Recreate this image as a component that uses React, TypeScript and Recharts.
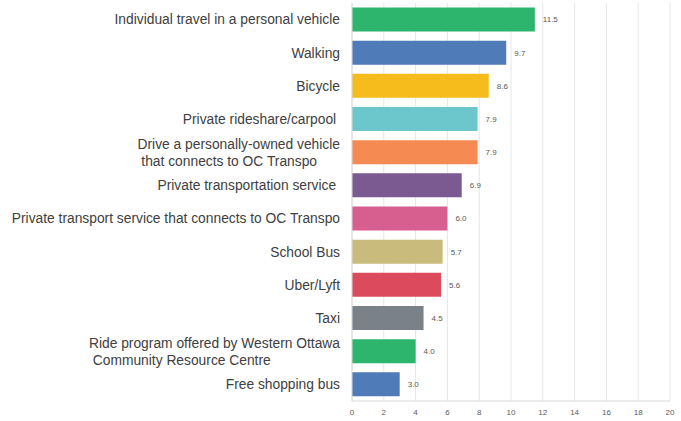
import { Bar, BarChart, CartesianGrid, Cell, LabelList, XAxis, YAxis } from 'recharts'

// categories (top to bottom) and mean values
const modes = [
  'Individual travel in a personal vehicle',
  'Walking',
  'Bicycle',
  'Private rideshare/carpool ',
  'Drive a personally-owned vehicle\n that connects to OC Transpo',
  'Private transportation service ',
  'Private transport service that connects to OC Transpo',
  'School Bus',
  'Uber/Lyft',
  'Taxi',
  'Ride program offered by Western Ottawa\n Community Resource Centre',
  'Free shopping bus',
]
const scores = [11.5, 9.7, 8.6, 7.9, 7.9, 6.9, 6.0, 5.7, 5.6, 4.5, 4.0, 3.0]
const colors = [
  '#2db56d',
  '#4f7bb8',
  '#f6bc1b',
  '#6cc7cc',
  '#f58a53',
  '#7a5a91',
  '#d65f90',
  '#c9bb7c',
  '#dc4b5d',
  '#7a8189',
  '#2db56d',
  '#4f7bb8',
]
const xTicks = [0, 2, 4, 6, 8, 10, 12, 14, 16, 18, 20]

const data = modes.map((name, i) => ({ name, value: scores[i] }))

const FONT = '"Liberation Sans", Arial, sans-serif'
const SIZE = 13.8

let ctx: CanvasRenderingContext2D | null = null
const measure = (s: string) => {
  if (!ctx) ctx = document.createElement('canvas').getContext('2d')
  if (!ctx) return s.length * 7
  ctx.font = `${SIZE}px ${FONT}`
  return ctx.measureText(s).width
}

// wrapped labels are right aligned on the first line, following lines start where it starts
function ModeTick({ x, y, payload }: any) {
  const lines = String(payload.value).split('\n')
  const right = x - 4
  if (lines.length === 1) {
    return (
      <text
        x={right}
        y={y}
        dy="0.35em"
        textAnchor="end"
        xmlSpace="preserve"
        fontSize={SIZE}
        fontFamily={FONT}
        fill="#404040"
      >
        {lines[0]}
      </text>
    )
  }
  const left = right - measure(lines[0])
  const top = y - ((lines.length - 1) * 17) / 2
  return (
    <g>
      {lines.map((l, i) => (
        <text
          key={i}
          x={i === 0 ? right : left}
          y={top + i * 17}
          dy="0.35em"
          textAnchor={i === 0 ? 'end' : 'start'}
          xmlSpace="preserve"
          fontSize={SIZE}
          fontFamily={FONT}
          fill="#404040"
        >
          {l}
        </text>
      ))}
    </g>
  )
}

export default function App() {
  return (
    <div style={{ position: 'absolute', left: 0, top: 0, background: '#fff' }}>
      <BarChart
        width={681}
        height={421}
        data={data}
        layout="vertical"
        margin={{ top: 3, right: 11, bottom: 0, left: 0 }}
        barCategoryGap={4.5}
      >
        <CartesianGrid horizontal={false} stroke="#e6e6e6" />
        <XAxis
          type="number"
          domain={[0, 20]}
          ticks={xTicks}
          interval={0}
          height={20}
          tickLine={false}
          axisLine={{ stroke: '#d9d9d9' }}
          tick={{ fontSize: 8, fill: '#595959', fontFamily: FONT }}
        />
        <YAxis
          type="category"
          dataKey="name"
          width={352}
          tickLine={false}
          axisLine={{ stroke: '#d9d9d9' }}
          interval={0}
          tick={<ModeTick />}
        />
        <Bar dataKey="value" isAnimationActive={false}>
          {data.map((d, i) => (
            <Cell key={d.name} fill={colors[i]} />
          ))}
          <LabelList
            dataKey="value"
            position="right"
            offset={8}
            formatter={(v: any) => Number(v).toFixed(1)}
            style={{ fontSize: 8, fill: '#595959', fontFamily: FONT }}
          />
        </Bar>
      </BarChart>
    </div>
  )
}
